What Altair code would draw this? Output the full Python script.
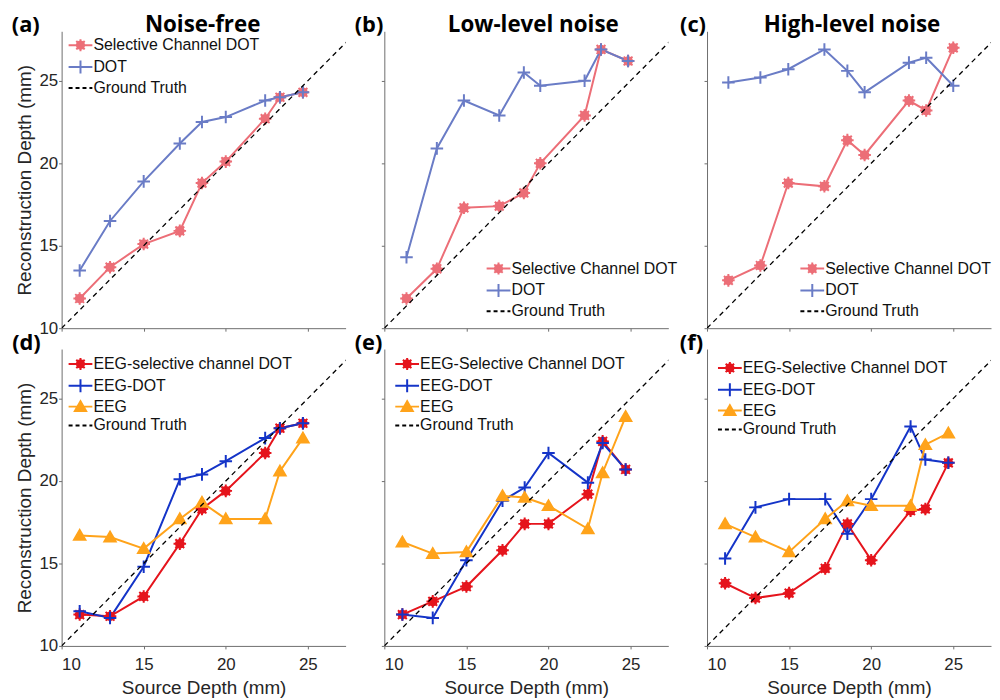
import altair as alt
import pandas as pd

# ---------------- data ----------------
ticks = [10, 15, 20, 25]
gt_line = [10, 28]

xs = [11.1, 12.95, 15.0, 17.2, 18.55, 20.0, 22.4, 23.3, 24.7]
xs_b = [11.35, 13.2, 14.85, 17.0, 18.5, 19.5, 22.2, 23.2, 24.85]
xs_c = [11.3, 13.25, 14.95, 17.15, 18.55, 19.6, 22.3, 23.35, 25.0]

a_sel = [11.8, 13.7, 15.1, 15.9, 18.8, 20.1, 22.7, 24.0, 24.3]
a_dot = [13.5, 16.5, 18.9, 21.2, 22.5, 22.8, 23.8, 24.0, 24.3]
b_sel = [11.8, 13.6, 17.3, 17.4, 18.2, 20.0, 22.9, 26.9, 26.2]
b_dot = [14.3, 20.9, 23.8, 22.9, 25.5, 24.7, 25.0, 26.9, 26.2]
c_sel = [12.9, 13.8, 18.8, 18.6, 21.4, 20.5, 23.8, 23.2, 27.0]
c_dot = [24.9, 25.2, 25.7, 26.9, 25.6, 24.3, 26.1, 26.4, 24.7]

d_sel = [11.9, 11.8, 13.0, 16.2, 18.3, 19.4, 21.7, 23.2, 23.5]
d_dot = [12.1, 11.7, 14.8, 20.1, 20.4, 21.2, 22.6, 23.2, 23.5]
d_eeg = [16.7, 16.6, 15.9, 17.7, 18.7, 17.7, 17.7, 20.6, 22.6]
e_sel = [11.9, 12.7, 13.6, 15.8, 17.4, 17.4, 19.2, 22.4, 20.7]
e_dot = [11.9, 11.7, 15.2, 18.8, 19.6, 21.7, 19.9, 22.3, 20.7]
e_eeg = [16.3, 15.6, 15.7, 19.1, 19.0, 18.5, 17.1, 20.5, 23.9]
f_sel = [13.8, 12.9, 13.2, 14.7, 17.4, 15.2, 18.2, 18.3, 21.1]
f_dot = [15.3, 18.4, 18.9, 18.9, 16.8, 18.9, 23.3, 21.3, 21.1]
f_eeg = [17.4, 16.6, 15.7, 17.7, 18.8, 18.5, 18.5, 22.2, 22.9]

names_top = ["Selective Channel DOT", "DOT"]
names_d = ["EEG-selective channel DOT", "EEG-DOT", "EEG"]
names_ef = ["EEG-Selective Channel DOT", "EEG-DOT", "EEG"]
GT = "Ground Truth"

# ---------------- styles ----------------
colors_top = ["#EC6E77", "#6A7CC6"]
colors_bot = ["#E5141C", "#1434C8", "#FFA31A"]

SPOKES = ("M-0.7,-0.29L0.7,0.29M-0.29,-0.7L0.29,0.7"
          "M-0.7,0.29L0.7,-0.29M-0.29,0.7L0.29,-0.7")
ASTER = "M-1,0H1M0,-1V1M-0.7,-0.7L0.7,0.7M-0.7,0.7L0.7,-0.7" + SPOKES
PLUS = "M-1,0H1M0,-1V1"
TRI = ("M-0.9,0.7L0.9,0.7L0,-0.85Z M-0.5,0.45L0.5,0.45L0,-0.4Z "
       "M-0.15,0.25L0.15,0.25L0,0Z")

L = "M-1.33,0H1.33"
LEG_ASTER = L + ("M-0.67,0H0.67M0,-0.67V0.67M-0.47,-0.47L0.47,0.47M-0.47,0.47L0.47,-0.47"
                 "M-0.47,-0.19L0.47,0.19M-0.19,-0.47L0.19,0.47"
                 "M-0.47,0.19L0.47,-0.19M-0.19,0.47L0.19,-0.47")
LEG_PLUS = L + "M0,-0.72V0.72"
LEG_TRI = L + ("M-0.63,0.49L0.63,0.49L0,-0.6Z M-0.35,0.32L0.35,0.32L0,-0.28Z "
               "M-0.1,0.18L0.1,0.18L0,0Z")
LEG_GT = L

W, H = 286, 299
XDOM = [10, 27.3]
YDOM = [10, 28]
FONT = "Liberation Sans"
HFONT = "Open Sans"


def panel(xvals, series, names, colors, shapes, leg_shapes, letter, letter_x,
          title, title_x, leg_x, leg_y, show_x, show_y):
    rows = []
    for name, ys in zip(names, series):
        for xv, yv in zip(xvals, ys):
            rows.append({"series": name, "x": xv, "y": yv})
    df = pd.DataFrame(rows)
    gdf = pd.DataFrame({"x": gt_line, "y": gt_line})

    xa = dict(values=ticks, labels=show_x, grid=False)
    if show_x:
        xa["title"] = "Source Depth (mm)"
    ya = dict(values=ticks, labels=show_y, grid=False)
    if show_y:
        ya["title"] = "Reconstruction Depth (mm)"

    xs_ = alt.Scale(domain=XDOM, nice=False, zero=False)
    ys_ = alt.Scale(domain=YDOM, nice=False, zero=False)
    X = alt.X("x:Q", scale=xs_, axis=alt.Axis(**xa)) if show_x else \
        alt.X("x:Q", scale=xs_, axis=alt.Axis(**xa), title=None)
    Y = alt.Y("y:Q", scale=ys_, axis=alt.Axis(**ya)) if show_y else \
        alt.Y("y:Q", scale=ys_, axis=alt.Axis(**ya), title=None)

    cscale = alt.Scale(domain=names, range=colors)
    base = alt.Chart(df)
    lines = base.mark_line(strokeWidth=2, clip=True).encode(
        x=X, y=Y,
        color=alt.Color("series:N", scale=cscale, legend=None),
        detail="series:N",
    )
    points = base.mark_point(filled=False, opacity=1, size=160, strokeWidth=2,
                             clip=True).encode(
        x=X, y=Y,
        color=alt.Color("series:N", scale=cscale, legend=None),
        shape=alt.Shape("series:N", scale=alt.Scale(domain=names, range=shapes),
                        legend=None),
    )
    gt = alt.Chart(gdf).mark_line(color="black", strokeWidth=1.3,
                                  strokeDash=[5, 4], clip=True).encode(x=X, y=Y)

    dom = names + [GT]
    leg = alt.Legend(title=None, orient="none", legendX=leg_x, legendY=leg_y,
                     labelFont=FONT, labelFontSize=16, labelColor="#111111",
                     labelLimit=400, symbolSize=324, symbolStrokeWidth=2,
                     labelOffset=3, rowPadding=0, padding=0)
    legend_layer = base.transform_filter("false").mark_point(
        filled=False, opacity=1, size=324, strokeWidth=2).encode(
        x=X, y=Y,
        color=alt.Color("series:N", scale=alt.Scale(domain=dom, range=colors + ["black"]),
                        legend=leg),
        shape=alt.Shape("series:N", scale=alt.Scale(domain=dom, range=leg_shapes + [LEG_GT]),
                        legend=leg),
        strokeDash=alt.StrokeDash("series:N",
                                  scale=alt.Scale(domain=dom,
                                                  range=[[1, 0]] * len(names) + [[4, 3]]),
                                  legend=leg),
    )
    layers = [lines, points, gt, legend_layer]
    letter_layer = alt.Chart(pd.DataFrame({"t": [letter]})).mark_text(
        align="right", baseline="alphabetic", font=HFONT, fontWeight="bold",
        fontSize=22, color="black", x=letter_x, y=1).encode(text="t:N")
    layers.append(letter_layer)
    if title:
        title_layer = alt.Chart(pd.DataFrame({"t": [title]})).mark_text(
            align="center", baseline="alphabetic", font=HFONT, fontWeight="bold",
            fontSize=22.5, color="black", x=title_x, y=1).encode(text="t:N")
        layers.append(title_layer)

    layer = alt.layer(*layers).resolve_scale(
        color="independent", shape="independent", strokeDash="independent")
    return layer.properties(width=W, height=H)


top_shapes = [ASTER, PLUS]
top_leg = [LEG_ASTER, LEG_PLUS]
bot_shapes = [ASTER, PLUS, TRI]
bot_leg = [LEG_ASTER, LEG_PLUS, LEG_TRI]

pa = panel(xs, [a_sel, a_dot], names_top, colors_top, top_shapes, top_leg,
           "(a)", -22, "Noise-free", 142, 9, 4, False, True)
pb = panel(xs_b, [b_sel, b_dot], names_top, colors_top, top_shapes, top_leg,
           "(b)", -1, "Low-level noise", 150, 105, 229, False, False)
pc = panel(xs_c, [c_sel, c_dot], names_top, colors_top, top_shapes, top_leg,
           "(c)", -1, "High-level noise", 146, 96, 229, False, False)
pd_ = panel(xs, [d_sel, d_dot, d_eeg], names_d, colors_bot, bot_shapes, bot_leg,
            "(d)", -21, None, 0, 9, 5, True, True)
pe = panel(xs, [e_sel, e_dot, e_eeg], names_ef, colors_bot, bot_shapes, bot_leg,
           "(e)", -2, None, 0, 13, 5, True, False)
pf = panel(xs, [f_sel, f_dot, f_eeg], names_ef, colors_bot, bot_shapes, bot_leg,
           "(f)", -4, None, 0, 13, 9, True, False)

chart = alt.concat(pa, pb, pc, pd_, pe, pf, columns=3,
                   spacing={"row": 21, "column": 39}, bounds="flush").properties(
    padding={"left": 3, "top": 4, "right": 0, "bottom": 0}
).configure_view(stroke=None).configure_axis(
    domainColor="#6e6e6e", tickColor="#6e6e6e", tickSize=3, domainWidth=1,
    tickWidth=1, labelFont=FONT, labelFontSize=17, labelColor="#262626",
    titleFont=FONT, titleFontSize=19, titleFontWeight="normal", titleColor="#262626",
).configure_axisX(labelPadding=8, titlePadding=6).configure_axisY(
    labelPadding=1, titlePadding=4)

chart.save("out.html", embed_options={"renderer": "svg", "actions": False})
